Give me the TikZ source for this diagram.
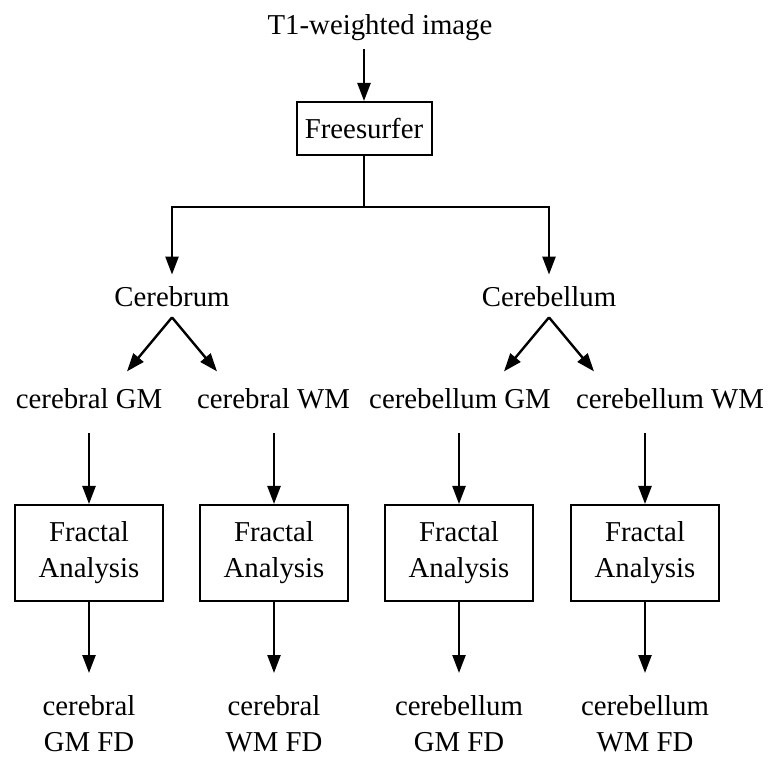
\documentclass[tikz,border=0pt]{standalone}
\usepackage{fontspec}
\setmainfont{Liberation Serif}
\usetikzlibrary{arrows.meta}
\begin{document}
\begin{tikzpicture}[x=0.5pt,y=-0.5pt,
  every node/.style={font=\fontsize{14.4}{18}\selectfont},
  lbl/.style={inner sep=0pt,text height=10pt,text depth=3pt},
  outl/.style={inner sep=0pt,align=center,anchor=north},
  procbox/.style={draw,line width=1pt,inner sep=0pt,align=center},
  arr/.style={line width=1.2pt,-{Triangle[length=9pt,width=6.5pt]}},
  ln/.style={line width=1.2pt}]
\useasboundingbox (0,0) rectangle (776,758);
% top
\node[lbl] (t1) at (380,28) {T1-weighted image};
\node[procbox,minimum width=67.5pt,minimum height=26.5pt] (fs) at (364,128.5) {Freesurfer};
\draw[arr] ([yshift=-4pt]t1.south -| fs.north) -- (fs.north);
\coordinate (split) at (364,207);
\node[lbl] (cbr) at (172,300) {Cerebrum};
\node[lbl] (cbl) at (549,300) {Cerebellum};
\draw[ln] (fs.south) -- (split);
\draw[arr] (split) -| ([yshift=6pt]cbr.north);
\draw[arr] (split) -| ([yshift=6pt]cbl.north);
% second row
\node[lbl] (cgm) at (89,402) {cerebral GM};
\node[lbl] (cwm) at (273.5,402) {cerebral WM};
\node[lbl] (bgm) at (460,402) {cerebellum GM};
\node[lbl] (bwm) at (670,402) {cerebellum WM};
\draw[arr] ([yshift=-2pt]cbr.south) -- ++(-45,54);
\draw[arr] ([yshift=-2pt]cbr.south) -- ++(45,54);
\draw[arr] ([yshift=-2pt]cbl.south) -- ++(-45,54);
\draw[arr] ([yshift=-2pt]cbl.south) -- ++(45,54);
% boxes
\foreach \n/\src/\x/\out/\txt in {f1/cgm/89/o1/{cerebral\\GM FD},f2/cwm/274/o2/{cerebral\\WM FD},f3/bgm/459/o3/{cerebellum\\GM FD},f4/bwm/645/o4/{cerebellum\\WM FD}}{
  \node[procbox,minimum width=74pt,minimum height=48pt] (\n) at (\x,553) {Fractal\\Analysis};
  \node[outl] (\out) at (\x,695) {\txt};
  \draw[arr] ([yshift=-9pt]\src.south -| \n.north) -- (\n.north);
  \draw[arr] (\n.south) -- ([yshift=11pt]\out.north);
}
\end{tikzpicture}
\end{document}
